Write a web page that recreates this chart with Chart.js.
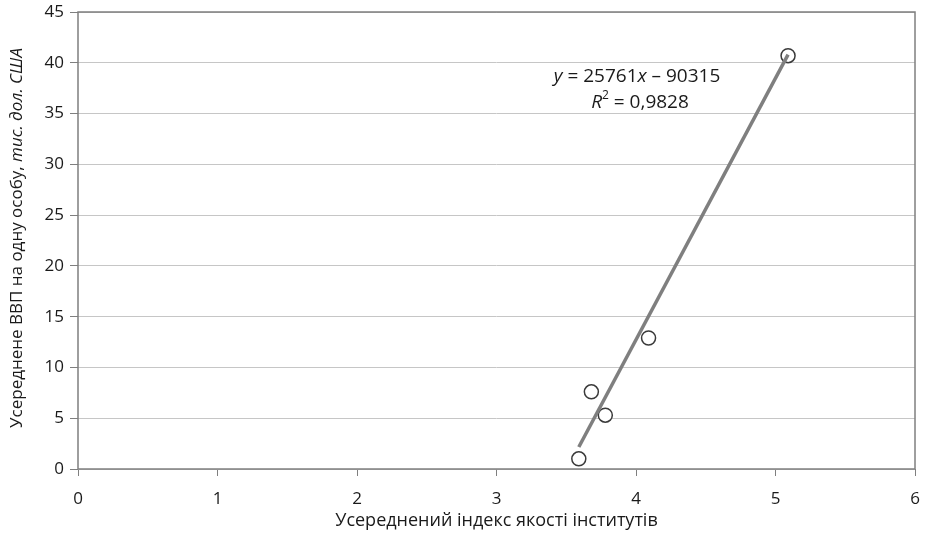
<!DOCTYPE html>
<html>
<head>
<meta charset="utf-8">
<script src="https://cdn.jsdelivr.net/npm/chart.js@4"></script>
<style>
  html, body { margin: 0; padding: 0; background: #fff; }
  #wrap { width: 930px; height: 536px; }
</style>
</head>
<body>
<div id="wrap"><canvas id="grafico" width="930" height="536"></canvas></div>
<script>
// data
const indeks = [3.59, 3.68, 3.78, 4.09, 5.09];
const vvp = [1.0, 7.6, 5.3, 12.9, 40.7];
// trend line y = 25761x - 90315 (in thousands)
const nahyl = 25.761;
const zsuv = -90.315;
const xTicks = [0, 1, 2, 3, 4, 5, 6];
const yTicks = [0, 5, 10, 15, 20, 25, 30, 35, 40, 45];

const shryft = "'Open Sans', 'Noto Sans', sans-serif";
const kolirTekstu = '#1a1a1a';

const tochky = indeks.map((x, i) => ({ x: x, y: vvp[i] }));
const xMin = Math.min(...indeks);
const xMax = Math.max(...indeks);
const trend = [
  { x: xMin, y: nahyl * xMin + zsuv },
  { x: xMax, y: nahyl * xMax + zsuv }
];

function bezVidstupu(s) {
  s.paddingTop = 0;
  s.paddingBottom = 0;
  s.paddingLeft = 0;
  s.paddingRight = 0;
}

const ramka = {
  id: 'ramka',
  afterDraw(chart) {
    const { ctx, chartArea: a } = chart;
    ctx.save();
    ctx.strokeStyle = '#7f7f7f';
    ctx.lineWidth = 1.5;
    ctx.strokeRect(a.left, a.top, a.right - a.left, a.bottom - a.top);

    ctx.fillStyle = kolirTekstu;
    ctx.textBaseline = 'middle';

    // x title
    ctx.font = '18px ' + shryft;
    ctx.textAlign = 'center';
    ctx.fillText('Усереднений індекс якості інститутів', (a.left + a.right) / 2, 521);

    // y title, part in italics
    const t1 = 'Усереднене ВВП на одну особу, ';
    const t2 = 'тис. дол. США';
    ctx.font = '17px ' + shryft;
    const w1 = ctx.measureText(t1).width;
    ctx.font = 'italic 17px ' + shryft;
    const w2 = ctx.measureText(t2).width;
    ctx.translate(17, 238);
    ctx.rotate(-Math.PI / 2);
    ctx.textAlign = 'left';
    ctx.font = '17px ' + shryft;
    ctx.fillText(t1, -(w1 + w2) / 2, 0);
    ctx.font = 'italic 17px ' + shryft;
    ctx.fillText(t2, -(w1 + w2) / 2 + w1, 0);
    ctx.restore();

    // equation label
    ctx.save();
    ctx.fillStyle = kolirTekstu;
    ctx.textBaseline = 'middle';
    ctx.textAlign = 'left';
    const parts1 = [['y', true], [' = 25761', false], ['x', true], [' – 90315', false]];
    const parts2 = [['R', true], ['2', false, true], [' = 0,9828', false]];
    const malyuy = (parts, cx, cy) => {
      let w = 0;
      parts.forEach(p => {
        ctx.font = (p[1] ? 'italic ' : '') + (p[2] ? '12px ' : '19px ') + shryft;
        w += ctx.measureText(p[0]).width;
      });
      let x = cx - w / 2;
      parts.forEach(p => {
        ctx.font = (p[1] ? 'italic ' : '') + (p[2] ? '12px ' : '19px ') + shryft;
        ctx.fillText(p[0], x, p[2] ? cy - 7 : cy);
        x += ctx.measureText(p[0]).width;
      });
    };
    malyuy(parts1, 637, 77);
    malyuy(parts2, 640, 103);
    ctx.restore();
  }
};

new Chart(document.getElementById('grafico'), {
  type: 'scatter',
  data: {
    datasets: [
      {
        type: 'line',
        data: trend,
        borderColor: '#7f7f7f',
        borderWidth: 3.5,
        pointRadius: 0,
        fill: false
      },
      {
        data: tochky,
        backgroundColor: '#ffffff',
        borderColor: '#3a3a3a',
        borderWidth: 1.5,
        pointRadius: 7,
        pointHoverRadius: 7
      }
    ]
  },
  options: {
    responsive: false,
    animation: false,
    layout: { padding: { top: 12, right: 15, left: 0, bottom: 0 } },
    plugins: {
      legend: { display: false },
      tooltip: { enabled: false }
    },
    scales: {
      x: {
        type: 'linear',
        min: 0,
        max: 6,
        afterBuildTicks: s => { s.ticks = xTicks.map(v => ({ value: v })); },
        afterFit: s => { s.height = 67; bezVidstupu(s); },
        grid: { drawOnChartArea: false, drawTicks: true, tickLength: 7, tickColor: '#7f7f7f' },
        border: { display: false },
        ticks: { color: kolirTekstu, font: { family: shryft, size: 17 }, padding: 13, maxRotation: 0 }
      },
      y: {
        type: 'linear',
        min: 0,
        max: 45,
        afterBuildTicks: s => { s.ticks = yTicks.map(v => ({ value: v })); },
        afterFit: s => { s.width = 78; bezVidstupu(s); },
        grid: { color: '#c6c6c6', lineWidth: 1, drawTicks: true, tickLength: 8, tickColor: '#7f7f7f' },
        border: { display: false },
        ticks: { color: kolirTekstu, font: { family: shryft, size: 17 }, padding: 6 }
      }
    }
  },
  plugins: [ramka]
});
</script>
</body>
</html>
